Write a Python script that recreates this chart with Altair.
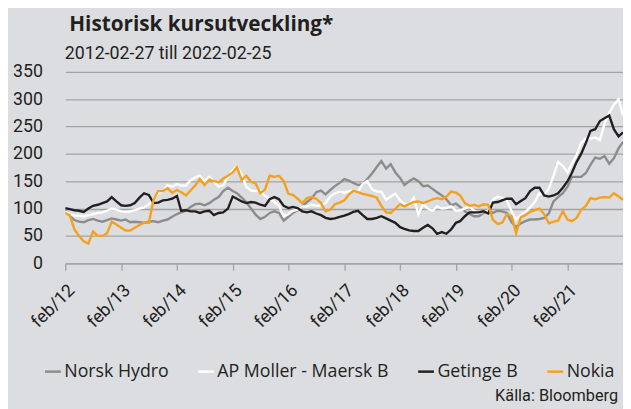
import altair as alt
import pandas as pd

series_names = ["Norsk Hydro", "AP Moller - Maersk B", "Getinge B", "Nokia"]
series_colors = ["#8c8c8c", "#ffffff", "#231f20", "#f4a11d"]

# monthly sample dates, 2012-02-27 .. 2022-02-25
dates = [d.strftime("%Y-%m-%d") for d in pd.date_range("2012-02-27", periods=121, freq=pd.DateOffset(months=1))]
dates[-1] = "2022-02-25"

norsk_hydro = [
    98, 87, 79, 76, 75, 79, 81, 78, 76, 79, 82, 80, 78, 80, 75, 76, 75, 74, 76, 77,
    75, 78, 80, 85, 90, 93, 96, 103, 108, 109, 106, 110, 116, 121, 132, 138, 132, 128, 120, 112,
    100, 89, 81, 85, 92, 95, 92, 78, 85, 92, 97, 104, 112, 118, 130, 133, 126, 134, 141, 147,
    154, 151, 147, 143, 145, 154, 164, 176, 187, 173, 181, 166, 156, 143, 150, 155, 150, 141, 142, 136,
    130, 124, 117, 106, 109, 103, 95, 90, 86, 86, 92, 97, 92, 96, 95, 92, 75, 66, 73, 77,
    80, 80, 81, 83, 91, 113, 121, 128, 140, 158, 158, 158, 165, 180, 193, 191, 196, 182, 192, 210,
    222,
]
maersk = [
    95, 90, 87, 87, 86, 88, 90, 92, 93, 96, 100, 98, 95, 94, 95, 97, 100, 102, 108, 118,
    128, 132, 143, 140, 145, 142, 142, 152, 157, 160, 150, 158, 150, 140, 143, 158, 170, 178, 162, 140,
    133, 132, 134, 123, 118, 112, 105, 86, 90, 96, 98, 104, 104, 107, 105, 106, 110, 122, 128, 131,
    129, 132, 133, 131, 145, 150, 135, 131, 131, 116, 122, 127, 115, 108, 106, 120, 90, 108, 100, 96,
    104, 100, 101, 104, 96, 97, 100, 104, 96, 92, 94, 96, 116, 122, 119, 114, 95, 80, 89, 94,
    102, 112, 128, 125, 136, 160, 185, 178, 166, 182, 198, 220, 228, 228, 230, 225, 255, 275, 290, 300,
    270,
]
getinge = [
    101, 99, 97, 96, 94, 100, 105, 107, 110, 113, 121, 113, 106, 105, 106, 110, 120, 128, 125, 110,
    111, 115, 116, 118, 123, 96, 97, 95, 95, 92, 95, 96, 88, 92, 93, 100, 122, 118, 113, 110,
    112, 111, 107, 105, 117, 121, 117, 105, 101, 103, 101, 95, 93, 95, 91, 88, 83, 81, 82, 85,
    87, 90, 94, 96, 88, 81, 81, 83, 86, 82, 78, 74, 66, 63, 60, 59, 59, 65, 70, 64,
    54, 57, 54, 62, 74, 77, 86, 93, 93, 93, 95, 91, 111, 112, 115, 118, 118, 108, 114, 119,
    132, 138, 138, 124, 122, 124, 128, 138, 150, 165, 185, 200, 220, 242, 245, 260, 265, 270, 245, 232,
    239,
]
nokia = [
    92, 88, 62, 50, 40, 36, 58, 50, 50, 55, 76, 71, 65, 60, 60, 65, 70, 74, 74, 116,
    132, 132, 137, 129, 134, 130, 124, 133, 142, 154, 143, 153, 150, 148, 155, 160, 166, 176, 152, 160,
    149, 146, 128, 135, 160, 158, 160, 150, 127, 125, 118, 110, 119, 121, 118, 110, 95, 98, 108, 111,
    115, 125, 133, 130, 127, 125, 123, 120, 105, 93, 92, 100, 108, 104, 108, 112, 113, 110, 113, 117,
    119, 117, 122, 131, 129, 124, 110, 105, 107, 104, 108, 107, 80, 72, 74, 90, 86, 55, 84, 88,
    94, 97, 100, 90, 73, 76, 78, 95, 80, 77, 83, 98, 105, 119, 117, 120, 121, 120, 128, 122,
    116,
]

y_ticks = [0, 50, 100, 150, 200, 250, 300, 350]
tick_years = list(range(2012, 2022))

rows = []
for name, vals in zip(series_names, [norsk_hydro, maersk, getinge, nokia]):
    for d, v in zip(dates, vals):
        rows.append({"date": d, "value": v, "series": name})
df = pd.DataFrame(rows)

FONT = "Roboto"
TXT = "#231f20"
GRID = "#a3a3a3"

lines = alt.Chart(df).mark_line(strokeWidth=2.4, clip=True).encode(
    x=alt.X(
        "date:T",
        scale=alt.Scale(
            type="utc",
            domain=[alt.DateTime(year=2012, month=2, date=27, utc=True),
                    alt.DateTime(year=2022, month=2, date=25, utc=True)],
        ),
        axis=alt.Axis(
            values=[alt.DateTime(year=y, month=2, date=27, utc=True) for y in tick_years],
            labelExpr="lower(utcFormat(datum.value, '%b/%y'))",
            labelAngle=-45, labelAlign="right", labelBaseline="top",
            labelPadding=11, tickSize=7, grid=False, title=None,
        ),
    ),
    y=alt.Y(
        "value:Q",
        scale=alt.Scale(domain=[0, 350], nice=False),
        axis=alt.Axis(values=y_ticks, grid=True, ticks=False, domain=False,
                      labelPadding=23, title=None),
    ),
    color=alt.Color(
        "series:N",
        scale=alt.Scale(domain=series_names, range=series_colors),
        sort=series_names,
        legend=alt.Legend(
            orient="none", legendX=-22, legendY=294, direction="horizontal",
            title=None, symbolType="stroke", symbolSize=256, symbolStrokeWidth=2.5,
            labelFont="Open Sans", labelFontSize=18, labelColor=TXT, labelOffset=2,
            labelLimit=0, columnPadding=24, columns=4,
        ),
    ),
    order=alt.Order("series_order:Q"),
).transform_calculate(
    series_order="indexof(%s, datum.series)" % str(series_names)
)

title = alt.Chart(pd.DataFrame({"t": ["Historisk kursutveckling*"]})).mark_text(
    align="left", baseline="alphabetic", font="Open Sans", fontSize=21, fontWeight="bold", color=TXT
).encode(x=alt.value(4), y=alt.value(-41), text="t:N")

subtitle = alt.Chart(pd.DataFrame({"t": ["2012-02-27 till 2022-02-25"]})).mark_text(
    align="left", baseline="alphabetic", font=FONT, fontSize=18, color=TXT
).encode(x=alt.value(-0.5), y=alt.value(-13), text="t:N")

source = alt.Chart(pd.DataFrame({"t": ["Källa: Bloomberg"]})).mark_text(
    align="right", baseline="alphabetic", font=FONT, fontSize=16.5, color=TXT
).encode(x=alt.value(560), y=alt.value(334), text="t:N")

chart = alt.layer(lines, title, subtitle, source).properties(
    width=565, height=194,
    autosize=alt.AutoSizeParams(type="none"),
    padding={"left": 58, "top": 62, "right": 0, "bottom": 146},
    background="#dcdde0",
).configure_view(stroke=None).configure_axis(
    gridColor=GRID, gridWidth=1.3, domainColor=GRID, domainWidth=1.3,
    tickColor=GRID, tickWidth=1.3,
    labelFont=FONT, labelFontSize=18, labelColor=TXT,
)

chart.save("out.html", embed_options={"renderer": "svg", "actions": False})
